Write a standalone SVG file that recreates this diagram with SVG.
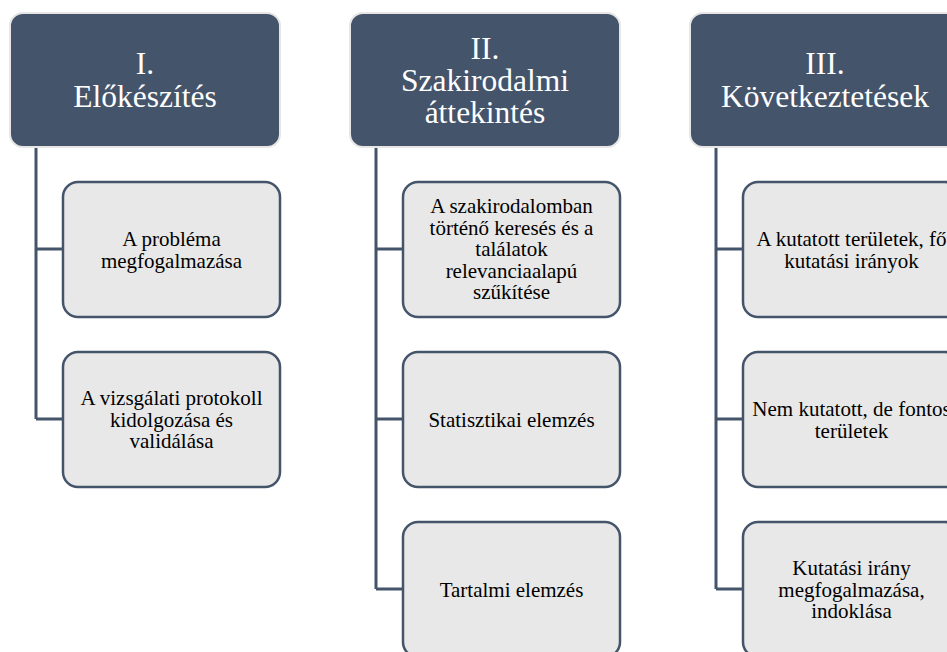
<svg xmlns="http://www.w3.org/2000/svg" width="947" height="652" viewBox="0 0 947 652">
<style>
.hdr{fill:#44546A;stroke:#E6E6E6;stroke-width:2}
.box{fill:#E8E8E8;stroke:#44546A;stroke-width:2.5}
.ht{font-family:"Liberation Serif","Times New Roman",serif;font-size:31.5px;fill:#FFFFFF;text-anchor:middle}
.bt{font-family:"Liberation Serif","Times New Roman",serif;font-size:21px;fill:#000000;text-anchor:middle}
.con{fill:none;stroke:#44546A;stroke-width:3}
</style>
<rect width="947" height="652" fill="#FFFFFF"/>
<g id="connectors">
<path class="con" d="M36,147 V419 M36,249 H63 M36,419 H63"/>
<path class="con" d="M376,147 V589 M376,249 H403 M376,419 H403 M376,589 H403"/>
<path class="con" d="M716,147 V589 M716,249 H743 M716,419 H743 M716,589 H743"/>
</g>
<g id="h1"><rect class="hdr" x="10" y="13" width="270" height="134" rx="13"/>
<text class="ht"><tspan x="145" y="74">I.</tspan><tspan x="145" y="107">Előkészítés</tspan></text></g>
<g id="h2"><rect class="hdr" x="350" y="13" width="270" height="134" rx="13"/>
<text class="ht"><tspan x="485" y="58.5">II.</tspan><tspan x="485" y="90.5">Szakirodalmi</tspan><tspan x="485" y="122.5">áttekintés</tspan></text></g>
<g id="h3"><rect class="hdr" x="690" y="13" width="270" height="134" rx="13"/>
<text class="ht"><tspan x="825" y="74">III.</tspan><tspan x="825" y="107">Következtetések</tspan></text></g>

<g id="b11"><rect class="box" x="63" y="182" width="217" height="135" rx="15"/>
<text class="bt"><tspan x="171.5" y="246">A probléma</tspan><tspan x="171.5" y="267.5">megfogalmazása</tspan></text></g>
<g id="b12"><rect class="box" x="63" y="352" width="217" height="135" rx="15"/>
<text class="bt"><tspan x="171.5" y="405">A vizsgálati protokoll</tspan><tspan x="171.5" y="426.5">kidolgozása és</tspan><tspan x="171.5" y="448">validálása</tspan></text></g>

<g id="b21"><rect class="box" x="403" y="182" width="217" height="135" rx="15"/>
<text class="bt"><tspan x="511.5" y="213">A szakirodalomban</tspan><tspan x="511.5" y="234.5">történő keresés és a</tspan><tspan x="511.5" y="256">találatok</tspan><tspan x="511.5" y="277.5">relevanciaalapú</tspan><tspan x="511.5" y="299">szűkítése</tspan></text></g>
<g id="b22"><rect class="box" x="403" y="352" width="217" height="135" rx="15"/>
<text class="bt"><tspan x="511.5" y="426.5">Statisztikai elemzés</tspan></text></g>
<g id="b23"><rect class="box" x="403" y="522" width="217" height="135" rx="15"/>
<text class="bt"><tspan x="511.5" y="596.5">Tartalmi elemzés</tspan></text></g>

<g id="b31"><rect class="box" x="743" y="182" width="217" height="135" rx="15"/>
<text class="bt"><tspan x="851.5" y="246">A kutatott területek, fő</tspan><tspan x="851.5" y="267.5">kutatási irányok</tspan></text></g>
<g id="b32"><rect class="box" x="743" y="352" width="217" height="135" rx="15"/>
<text class="bt"><tspan x="851.5" y="416">Nem kutatott, de fontos</tspan><tspan x="851.5" y="437.5">területek</tspan></text></g>
<g id="b33"><rect class="box" x="743" y="522" width="217" height="135" rx="15"/>
<text class="bt"><tspan x="851.5" y="575">Kutatási irány</tspan><tspan x="851.5" y="596.5">megfogalmazása,</tspan><tspan x="851.5" y="618">indoklása</tspan></text></g>
</svg>
